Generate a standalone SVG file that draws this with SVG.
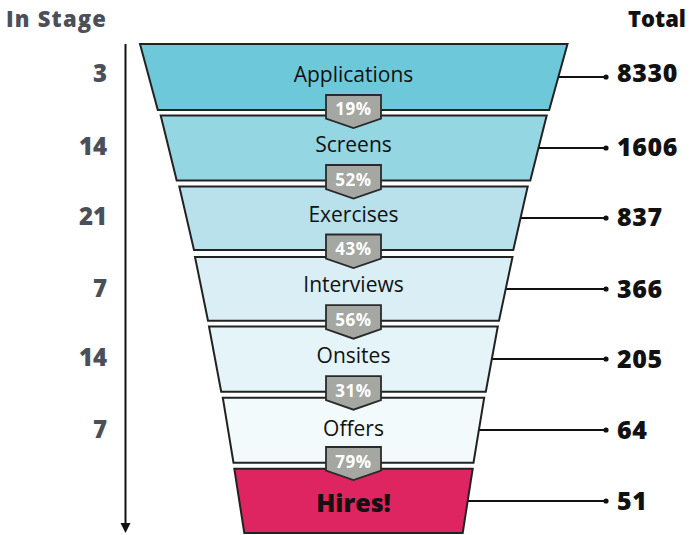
<svg xmlns="http://www.w3.org/2000/svg" width="691" height="535" viewBox="0 0 691 535">
  <style>
    .stage { stroke: #222; stroke-width: 2; stroke-linejoin: miter; }
    .label { font-family: "Open Sans", "Liberation Sans", sans-serif; font-size: 21px; fill: #111; text-anchor: middle; }
    .label.final { font-size: 25px; font-weight: 800; }
    .badge { fill: #a5a7a2; stroke: #2a2a2a; stroke-width: 1.8; }
    .pct { font-family: "Open Sans", "Liberation Sans", sans-serif; font-size: 17px; font-weight: 700; fill: #fff; text-anchor: middle; letter-spacing: 0.6px; }
    .days { font-family: "Open Sans", "Liberation Sans", sans-serif; font-size: 24px; font-weight: 800; fill: #4b4f59; text-anchor: end; }
    .total { font-family: "Open Sans", "Liberation Sans", sans-serif; font-size: 25px; font-weight: 800; fill: #111; letter-spacing: 0.6px; }
    .head { font-family: "Open Sans", "Liberation Sans", sans-serif; font-size: 22px; font-weight: 800; }
    .conn { stroke: #111; stroke-width: 1.8; fill: none; }
    .dot { fill: #111; }
  </style>

  <!-- column headings -->
  <text class="head" x="6" y="27" fill="#4b4f59" letter-spacing="1.2">In Stage</text>
  <text class="head" x="628" y="27" fill="#111">Total</text>

  <!-- time axis -->
  <g id="axis">
    <line x1="125.5" y1="44" x2="125.5" y2="524" stroke="#111" stroke-width="2"/>
    <polygon points="120.5,523 130.5,523 125.5,533" fill="#111"/>
  </g>

  <!-- days spent in each stage -->
  <g id="days">
    <text class="days" x="107" y="82">3</text>
    <text class="days" x="107" y="155">14</text>
    <text class="days" x="107" y="225">21</text>
    <text class="days" x="107" y="297">7</text>
    <text class="days" x="107" y="366">14</text>
    <text class="days" x="107" y="438">7</text>
  </g>

  <!-- connectors from each stage to its total -->
  <g id="connectors">
    <line class="conn" x1="558" y1="77" x2="606" y2="77"/>
    <circle class="dot" cx="606" cy="77" r="2.6"/>
    <line class="conn" x1="538.5" y1="148" x2="606" y2="148"/>
    <circle class="dot" cx="606" cy="148" r="2.6"/>
    <line class="conn" x1="520.5" y1="218" x2="606" y2="218"/>
    <circle class="dot" cx="606" cy="218" r="2.6"/>
    <line class="conn" x1="506" y1="289" x2="606" y2="289"/>
    <circle class="dot" cx="606" cy="289" r="2.6"/>
    <line class="conn" x1="492" y1="359" x2="606" y2="359"/>
    <circle class="dot" cx="606" cy="359" r="2.6"/>
    <line class="conn" x1="478.5" y1="430" x2="606" y2="430"/>
    <circle class="dot" cx="606" cy="430" r="2.6"/>
    <line class="conn" x1="467.5" y1="501" x2="606" y2="501"/>
    <circle class="dot" cx="606" cy="501" r="2.6"/>
  </g>

  <!-- funnel stages -->
  <g id="applications">
    <polygon class="stage" fill="#6dc9d9" points="140,44 567.5,44 549.2,110 157.8,110"/>
    <text class="label" x="353.5" y="82">Applications</text>
  </g>
  <g id="screens">
    <polygon class="stage" fill="#94d6e2" points="160.7,115.5 546.7,115.5 530.3,180.5 176.7,180.5"/>
    <text class="label" x="353.5" y="152">Screens</text>
  </g>
  <g id="exercises">
    <polygon class="stage" fill="#b8e1eb" points="179.3,186.5 527.7,186.5 513.3,250 194,250"/>
    <text class="label" x="353.5" y="222">Exercises</text>
  </g>
  <g id="interviews">
    <polygon class="stage" fill="#daeff5" points="195,257 512.5,257 499,320.7 208,320.7"/>
    <text class="label" x="353.5" y="292">Interviews</text>
  </g>
  <g id="onsites">
    <polygon class="stage" fill="#e5f4f9" points="209,326.5 497.8,326.5 485.8,391.7 221.2,391.7"/>
    <text class="label" x="353.5" y="363">Onsites</text>
  </g>
  <g id="offers">
    <polygon class="stage" fill="#f3fafb" points="222.8,397.7 484.2,397.7 473.5,462.7 233.5,462.7"/>
    <text class="label" x="353.5" y="436">Offers</text>
  </g>
  <g id="hires">
    <polygon class="stage" fill="#df2462" points="234.3,468.7 472.7,468.7 462.7,533 244.3,533"/>
    <text class="label final" x="353.5" y="512">Hires!</text>
  </g>

  <!-- conversion rate badges between stages -->
  <g id="rates">
    <path class="badge" d="M326,95 H381 V118.5 L353.5,128 L326,118.5 Z"/>
    <text class="pct" x="353.5" y="115">19%</text>
    <path class="badge" d="M326,165 H381 V189 L353.5,198.5 L326,189 Z"/>
    <text class="pct" x="353.5" y="185.5">52%</text>
    <path class="badge" d="M326,234.5 H381 V258.5 L353.5,268 L326,258.5 Z"/>
    <text class="pct" x="353.5" y="255">43%</text>
    <path class="badge" d="M326,305.2 H381 V329.2 L353.5,338.7 L326,329.2 Z"/>
    <text class="pct" x="353.5" y="325.7">56%</text>
    <path class="badge" d="M326,376.2 H381 V400.2 L353.5,409.7 L326,400.2 Z"/>
    <text class="pct" x="353.5" y="396.7">31%</text>
    <path class="badge" d="M326,447 H381 V470.5 L353.5,480 L326,470.5 Z"/>
    <text class="pct" x="353.5" y="467.5">79%</text>
  </g>

  <!-- totals -->
  <g id="totals">
    <text class="total" x="617" y="82">8330</text>
    <text class="total" x="617" y="156">1606</text>
    <text class="total" x="617" y="226">837</text>
    <text class="total" x="617" y="298">366</text>
    <text class="total" x="617" y="368">205</text>
    <text class="total" x="617" y="439">64</text>
    <text class="total" x="617" y="510">51</text>
  </g>
</svg>
